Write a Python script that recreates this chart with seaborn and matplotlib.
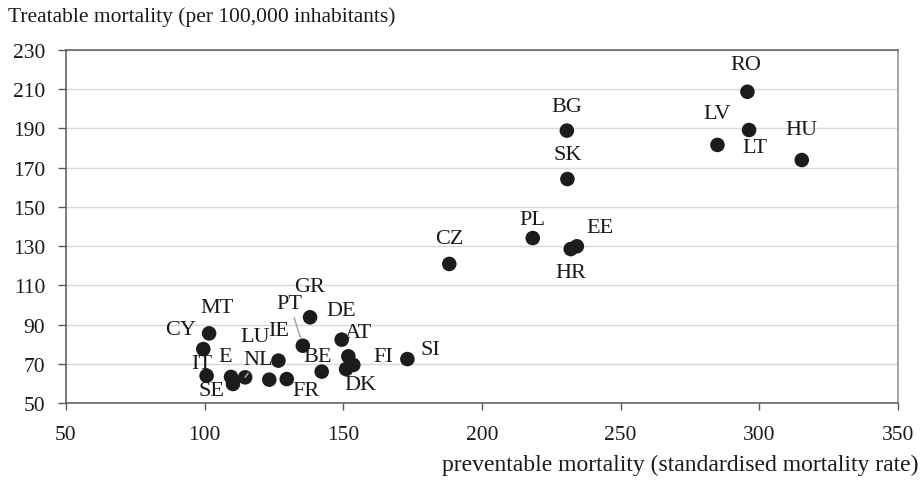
import matplotlib
matplotlib.use("Agg")
import matplotlib.pyplot as plt
import pandas as pd
import seaborn as sns

# ==================== data ====================
countries = ['RO', 'LV', 'LT', 'HU', 'BG', 'SK', 'CZ', 'PL', 'EE', 'HR',
             'MT', 'CY', 'IT', 'ES', 'SE', 'NL', 'LU', 'IE', 'FR', 'PT',
             'GR', 'DE', 'AT', 'BE', 'FI', 'DK', 'SI']
labels = ['RO', 'LV', 'LT', 'HU', 'BG', 'SK', 'CZ', 'PL', 'EE', 'HR',
          'MT', 'CY', 'IT', 'E', 'SE', 'NL', 'LU', 'IE', 'FR', 'PT',
          'GR', 'DE', 'AT', 'BE', 'FI', 'DK', 'SI']
preventable = [295.7, 284.9, 296.3, 315.3, 230.6, 230.8, 188.2, 218.3, 234.2, 232.0,
               101.6, 99.5, 100.7, 109.5, 110.2, 114.6, 123.3, 126.6, 129.6, 135.4,
               138.0, 149.4, 151.8, 142.2, 153.6, 151.0, 173.1]
treatable = [208.7, 181.6, 189.2, 173.9, 188.9, 164.2, 120.9, 134.1, 129.9, 128.5,
             85.5, 77.5, 63.9, 63.3, 59.7, 63.1, 61.9, 71.6, 62.2, 79.2,
             93.7, 82.3, 73.8, 66.0, 69.4, 67.3, 72.4]

df = pd.DataFrame({'country': countries, 'label': labels,
                   'preventable': preventable, 'treatable': treatable})

# label offsets in pixels (dx, dy), and which ones get a leader line
offsets = {'RO': (-2, 27), 'LV': (0, 31), 'LT': (6, -17), 'HU': (0, 31),
           'BG': (0, 24), 'SK': (0, 25), 'CZ': (0, 25), 'PL': (0, 19),
           'EE': (23, 19), 'HR': (0, -23), 'MT': (8, 26), 'CY': (-23, 20),
           'IT': (-5, 12), 'ES': (-6, 20), 'SE': (-21, -7), 'NL': (13, 18),
           'LU': (-14, 43), 'IE': (0, 30), 'FR': (19, -11), 'PT': (-13, 42),
           'GR': (0, 31), 'DE': (0, 29), 'AT': (10, 24), 'BE': (-4, 15),
           'FI': (30, 8), 'DK': (14, -15), 'SI': (23, 10)}
leaders = ['PT', 'NL']

# ==================== style ====================
sns.set_style('white')
plt.rcParams['font.family'] = ['Liberation Serif', 'DejaVu Serif']

fig = plt.figure(figsize=(9.23, 4.81), dpi=100)
ax = fig.add_axes([66 / 923, 77 / 481, 832 / 923, 353 / 481])

sns.scatterplot(data=df, x='preventable', y='treatable', s=110,
                color='#1c1c1c', edgecolor='none', zorder=3, ax=ax)

for _, row in df.iterrows():
    dx, dy = offsets[row['country']]
    arrow = None
    if row['country'] in leaders:
        arrow = dict(arrowstyle='-', color='#a6a6a6', lw=1.1,
                     shrinkA=1, shrinkB=6)
    ax.annotate(row['label'], (row['preventable'], row['treatable']),
                xytext=(dx, dy), textcoords='offset pixels',
                ha='center', va='center', fontsize=16, color='#1a1a1a',
                arrowprops=arrow, zorder=4)

ax.set_xlim(50, 350)
ax.set_ylim(50, 230)
ax.set_xticks(range(50, 351, 50))
ax.set_yticks(range(50, 231, 20))
ax.grid(axis='y', color='#d9d9d9', lw=1)
ax.set_axisbelow(True)
ax.set_xlabel('')
ax.set_ylabel('')

for side in ['left', 'bottom', 'top']:
    ax.spines[side].set_color('#595959')
ax.spines['right'].set_color('#8c8c8c')
for sp in ax.spines.values():
    sp.set_linewidth(1.1)

ax.tick_params(axis='y', length=6, width=1, color='#595959', pad=9,
               labelsize=15.5, labelcolor='#1a1a1a', left=True)
ax.tick_params(axis='x', length=5, width=1, color='#595959', pad=11,
               labelsize=15.5, labelcolor='#1a1a1a', bottom=True)

fig.text(8 / 923, 1 - 17 / 481, 'Treatable mortality (per 100,000 inhabitants)',
         ha='left', va='center', fontsize=15.5, color='#1a1a1a')
fig.text(918 / 923, 1 - 465 / 481,
         'preventable mortality (standardised mortality rate)',
         ha='right', va='center', fontsize=17, color='#1a1a1a')

plt.savefig('out.png', dpi=100)
